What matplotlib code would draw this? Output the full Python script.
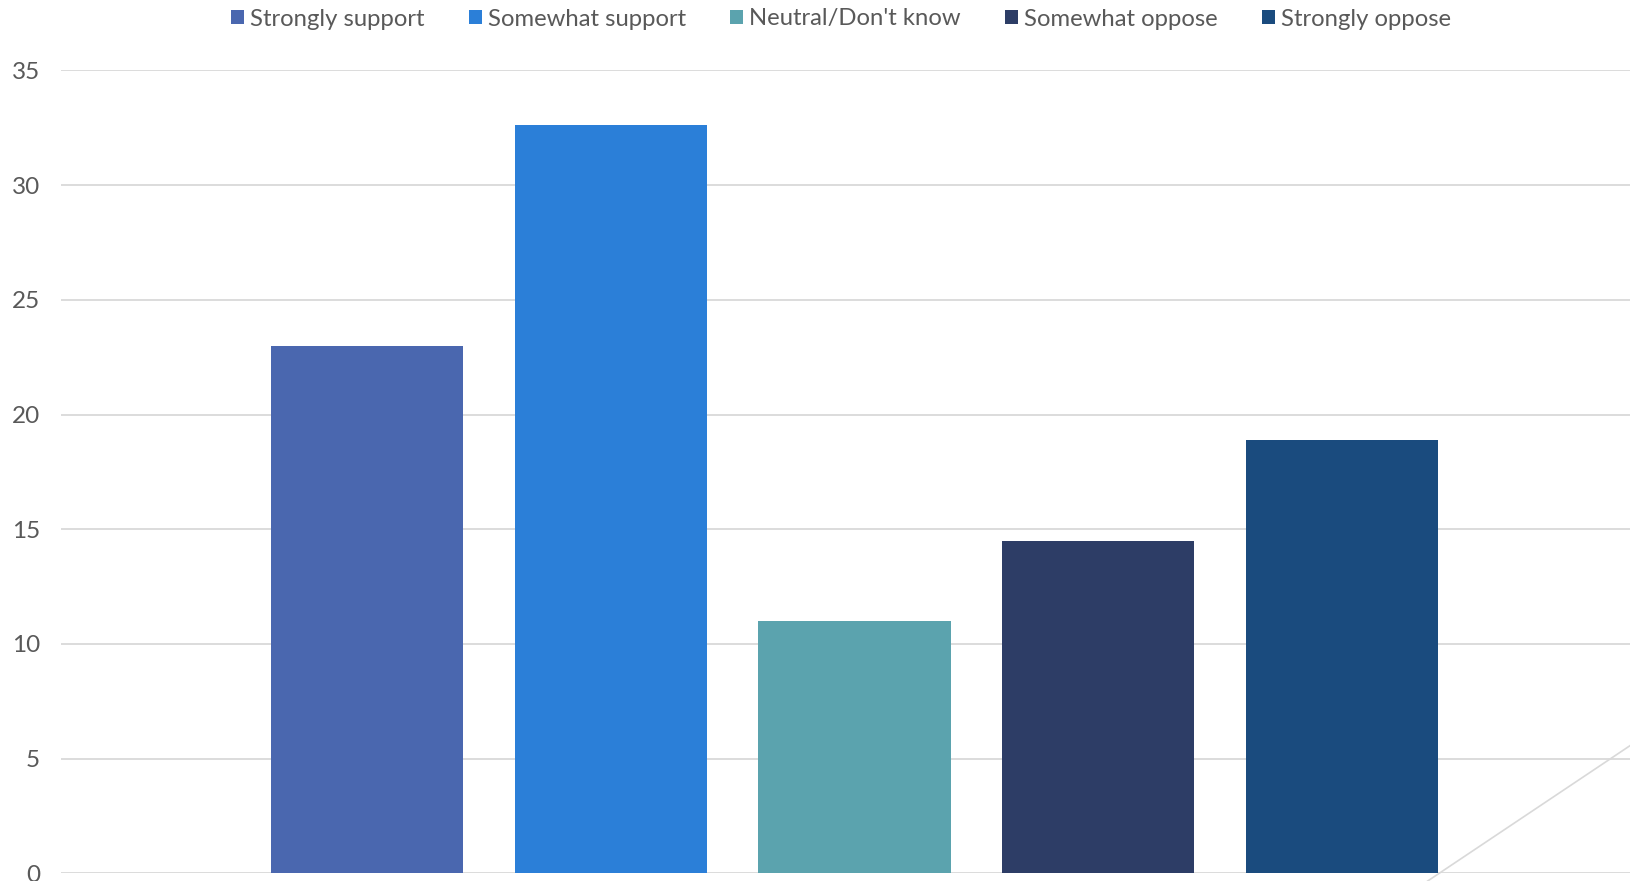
import matplotlib.pyplot as plt
from matplotlib.patches import Patch
from matplotlib.lines import Line2D

# Survey responses (percent)
responses = ['Strongly support', 'Somewhat support', "Neutral/Don't know",
             'Somewhat oppose', 'Strongly oppose']
percent = [23.0, 32.6, 11.0, 14.5, 18.9]
colors = ['#4A67AF', '#2B7FD8', '#5BA3AE', '#2D3D66', '#1A4B7E']
yticks = [0, 5, 10, 15, 20, 25, 30, 35]

plt.rcParams['font.family'] = ['Lato', 'DejaVu Sans']
text_color = '#595959'
grid_color = '#D9D9D9'

fig = plt.figure(figsize=(16.31, 8.81), dpi=100)
ax = fig.add_axes([61 / 1631, 7.7 / 881, 1 - 61 / 1631, 802.9 / 881])

# one bar per series
for i, (name, val, c) in enumerate(zip(responses, percent, colors)):
    ax.bar(i, val, width=0.788, color=c, label=name, zorder=2)

ax.set_xlim(-1.2554, 5.1856)
ax.set_ylim(0, 35)
ax.set_yticks(yticks)
ax.set_xticks([])
ax.yaxis.grid(True, color=grid_color, linewidth=1.3, zorder=0)
ax.set_axisbelow(True)
for s in ax.spines.values():
    s.set_visible(False)
ax.tick_params(axis='y', length=0, pad=15, labelsize=17.5, labelcolor=text_color)
for lbl in ax.get_yticklabels():
    lbl.set_clip_on(False)

# legend across the top
handles = [Patch(facecolor=c, edgecolor='none') for c in colors]
fig.legend(handles, responses, loc='center', bbox_to_anchor=(841 / 1631, 1 - 19 / 881),
           ncol=5, frameon=False, fontsize=17.2, labelcolor=text_color,
           handlelength=0.55, handleheight=0.55, handletextpad=0.25,
           columnspacing=1.85, borderaxespad=0)

# faint diagonal line in the bottom-right corner
fig.add_artist(Line2D([1427.7 / 1631, 1.0], [0, 136 / 881],
                      transform=fig.transFigure, color=grid_color, linewidth=1.2))

fig.savefig('out.png', dpi=100)
